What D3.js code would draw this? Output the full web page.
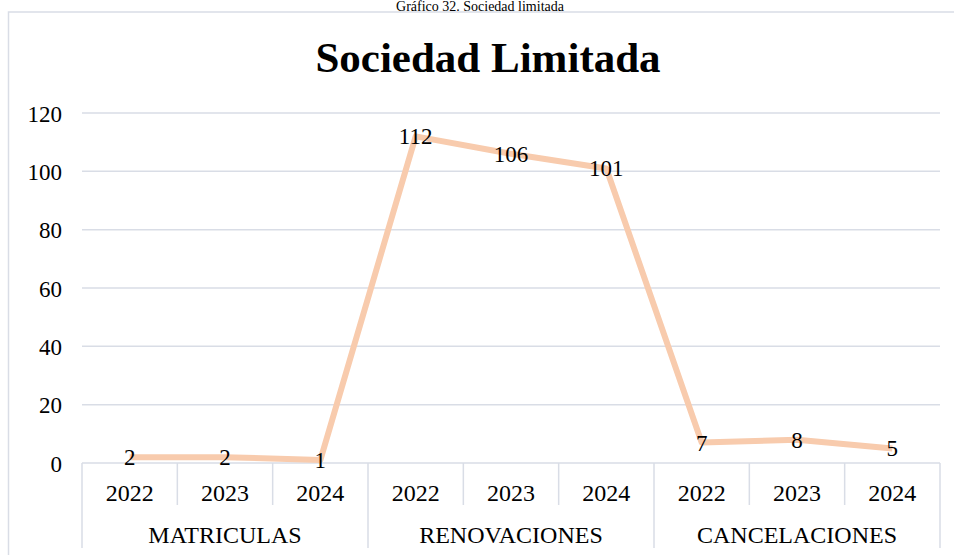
<!DOCTYPE html>
<html>
<head>
<meta charset="utf-8">
<script src="https://cdn.jsdelivr.net/npm/d3@7"></script>
<style>
  body { margin: 0; background: #fff; }
  svg text { font-family: "Liberation Serif", "Times New Roman", Times, serif !important; fill: #000; }
</style>
</head>
<body>
<svg id="chart" width="954" height="555"></svg>
<script>
// data
let groups = ["MATRICULAS", "RENOVACIONES", "CANCELACIONES"];
let years = ["2022", "2023", "2024"];
let values = [2, 2, 1, 112, 106, 101, 7, 8, 5];
let yTicks = [0, 20, 40, 60, 80, 100, 120];

let margin = {left: 82, right: 14, top: 113, bottom: 92},
    width = 940 - margin.left,
    height = 463 - margin.top;

let gridColor = "#d9dde6";

let svg = d3.select("#chart");

// caption above the chart box
svg.append("text")
  .attr("x", 480)
  .attr("y", 11)
  .attr("text-anchor", "middle")
  .style("font-size", "14px")
  .text("Gráfico 32. Sociedad limitada");

// chart box
svg.append("rect")
  .attr("x", 8.5).attr("y", 12)
  .attr("width", 962).attr("height", 560)
  .attr("fill", "none")
  .attr("stroke", gridColor)
  .attr("stroke-width", 1.5);

svg.append("text")
  .attr("x", 488)
  .attr("y", 72)
  .attr("text-anchor", "middle")
  .style("font-size", "43px")
  .style("font-weight", "bold")
  .text("Sociedad Limitada");

let keys = [];
groups.forEach(g => years.forEach(y => keys.push(g + "|" + y)));

let x = d3.scaleBand()
  .domain(keys)
  .range([0, width]);

let y = d3.scaleLinear()
  .domain([0, 120])
  .range([height, 0]);

let g = svg.append("g")
  .attr("transform", "translate(" + margin.left + "," + margin.top + ")");

// gridlines
g.selectAll(".grid")
  .data(yTicks)
.enter().append("line")
  .attr("class", "grid")
  .attr("x1", 0).attr("x2", width)
  .attr("y1", d => y(d)).attr("y2", d => y(d))
  .attr("stroke", gridColor)
  .attr("stroke-width", 1.5);

// y axis labels
let yAxis = d3.axisLeft(y).tickValues(yTicks).tickSize(0).tickPadding(20);
g.append("g")
  .call(yAxis)
  .attr("font-family", null)
  .call(a => a.select(".domain").remove())
  .selectAll("text")
    .style("font-size", "23px")
    .attr("dy", "0.35em");

// x axis: year dividers and group dividers
let bw = x.bandwidth();
g.selectAll(".ydiv")
  .data(keys)
.enter().append("line")
  .attr("x1", d => x(d)).attr("x2", d => x(d))
  .attr("y1", height).attr("y2", (d, i) => i % 3 == 0 ? height + 85 : height + 42)
  .attr("stroke", gridColor)
  .attr("stroke-width", 1.5);

g.append("line")
  .attr("x1", width).attr("x2", width)
  .attr("y1", height).attr("y2", height + 85)
  .attr("stroke", gridColor)
  .attr("stroke-width", 1.5);

g.selectAll(".year")
  .data(keys)
.enter().append("text")
  .attr("x", d => x(d) + bw / 2)
  .attr("y", height + 38)
  .attr("text-anchor", "middle")
  .style("font-size", "24px")
  .text(d => d.split("|")[1]);

g.selectAll(".group")
  .data(groups)
.enter().append("text")
  .attr("x", d => x(d + "|2023") + bw / 2)
  .attr("y", height + 80)
  .attr("text-anchor", "middle")
  .style("font-size", "24px")
  .text(d => d);

// line
let line = d3.line()
  .x((d, i) => x(keys[i]) + bw / 2)
  .y(d => y(d));

g.append("path")
  .datum(values)
  .attr("d", line)
  .attr("fill", "none")
  .attr("stroke", "#f8cbad")
  .attr("stroke-width", 6)
  .attr("stroke-linejoin", "round");

// data labels
g.selectAll(".label")
  .data(values)
.enter().append("text")
  .attr("x", (d, i) => x(keys[i]) + bw / 2)
  .attr("y", d => y(d))
  .attr("dy", "0.35em")
  .attr("text-anchor", "middle")
  .style("font-size", "23px")
  .text(d => d);
</script>
</body>
</html>
